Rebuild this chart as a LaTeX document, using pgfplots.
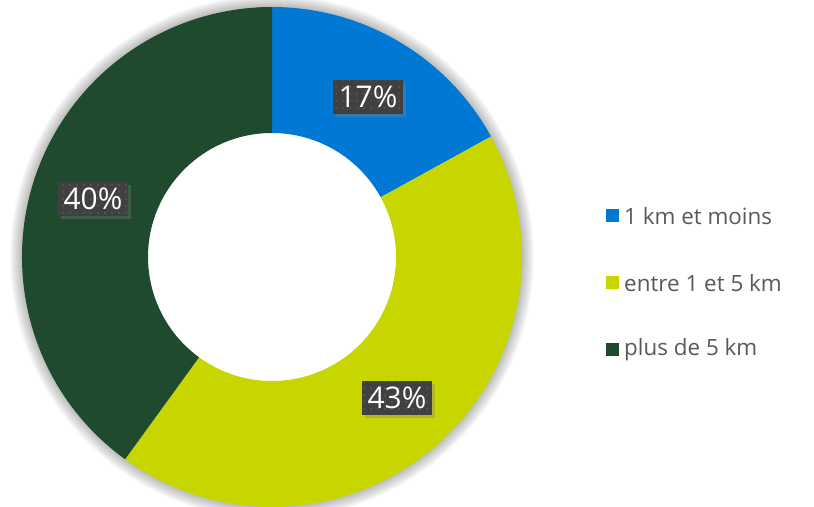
\documentclass[border=0pt]{standalone}
\usepackage{pgfplots}
\usepackage{pgfplotstable}
\pgfplotsset{compat=1.18}
\usepackage{fontspec}
\setmainfont{Open Sans}
\usetikzlibrary{patterns.meta,shadows}

\definecolor{c1}{RGB}{0,120,212}
\definecolor{c2}{RGB}{200,214,0}
\definecolor{c3}{RGB}{31,74,46}
\definecolor{boxgray}{RGB}{64,64,64}
\definecolor{dotgray}{RGB}{92,92,92}
\definecolor{legtext}{RGB}{89,89,89}

% parts of the ring, in percent, clockwise from the top
\pgfplotstableread{
share
17
43
40
}\donut

\begin{document}
\begin{tikzpicture}
\def\cx{272}\def\cy{250}
\def\ro{250bp}\def\ri{124bp}
\pgfplotstablegetelem{0}{share}\of\donut \edef\va{\pgfplotsretval}
\pgfplotstablegetelem{1}{share}\of\donut \edef\vb{\pgfplotsretval}
\pgfplotstablegetelem{2}{share}\of\donut \edef\vc{\pgfplotsretval}
\pgfmathsetmacro\aa{90}
\pgfmathsetmacro\ab{90-3.6*\va}
\pgfmathsetmacro\ac{\ab-3.6*\vb}
\pgfmathsetmacro\ad{\ac-3.6*\vc}
\begin{axis}[
  hide axis, scale only axis,
  width=814bp, height=507bp,
  xmin=0, xmax=814, ymin=0, ymax=507,
  clip=false
]
  % soft shadow round the ring
  \pgfplotsinvokeforeach{1,...,12}{
    \fill[black, opacity=0.022, even odd rule]
      (axis cs:\cx,\cy) circle[radius=250bp+#1bp]
      (axis cs:\cx,\cy) circle[radius=249bp];
  }

  \fill[c1] (axis cs:\cx,\cy) ++(\aa:\ro) arc[start angle=\aa, end angle=\ab, radius=\ro]
    -- ++(\ab:-126bp) arc[start angle=\ab, end angle=\aa, radius=\ri] -- cycle;
  \fill[c2] (axis cs:\cx,\cy) ++(\ab:\ro) arc[start angle=\ab, end angle=\ac, radius=\ro]
    -- ++(\ac:-126bp) arc[start angle=\ac, end angle=\ab, radius=\ri] -- cycle;
  \fill[c3] (axis cs:\cx,\cy) ++(\ac:\ro) arc[start angle=\ac, end angle=\ad, radius=\ro]
    -- ++(\ad:-126bp) arc[start angle=\ad, end angle=\ac, radius=\ri] -- cycle;

  % value labels
  \tikzset{lab/.style={fill=boxgray, text=white, inner xsep=6bp, inner ysep=6bp,
    font=\fontsize{30}{32}\selectfont,
    drop shadow={shadow xshift=3bp, shadow yshift=-3bp, opacity=0.35},
    postaction={pattern={Dots[distance=7bp, radius=1bp]}, pattern color=dotgray}}}
  \node[lab] at (axis cs:368,410) {\va\%};
  \node[lab] at (axis cs:397,109) {\vb\%};
  \node[lab] at (axis cs:93,308) {\vc\%};

  % legend
  \tikzset{leg/.style={anchor=west, text=legtext, font=\fontsize{22.5}{26}\selectfont, inner sep=0pt}}
  \fill[c1] (axis cs:606,285) rectangle (axis cs:619,298);
  \node[leg] at (axis cs:624,291) {1 km et moins};
  \fill[c2] (axis cs:606,218) rectangle (axis cs:619,231);
  \node[leg] at (axis cs:624,224) {entre 1 et 5 km};
  \fill[c3] (axis cs:606,151) rectangle (axis cs:619,164);
  \node[leg] at (axis cs:624,157) {plus de 5 km};
\end{axis}
\pgfresetboundingbox
\path (current axis.south west) rectangle (current axis.north east);
\end{tikzpicture}
\end{document}
